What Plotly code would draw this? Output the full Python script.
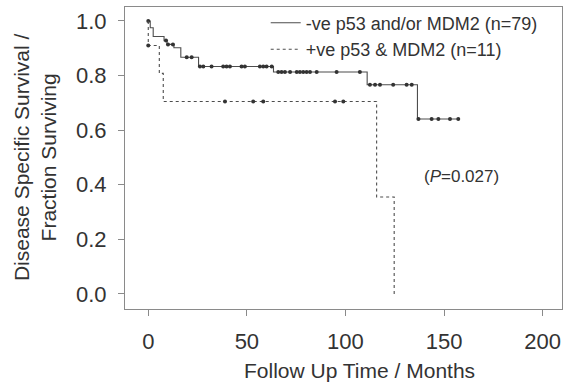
import numpy as np
import plotly.graph_objects as go

# Kaplan-Meier step data (months, fraction surviving)
neg_label = "-ve p53 and/or MDM2 (n=79)"
neg_times = [0, 1.0, 2.5, 8.0, 9.5, 13.0, 16.5, 25.5, 63.5, 111.0, 136.5]
neg_surv = [1.0, 0.975, 0.943, 0.928, 0.914, 0.902, 0.867, 0.833, 0.813, 0.766, 0.641]
neg_end = 158.0
neg_censored = [0, 9, 10, 12.5, 19.5, 22, 26.2, 27.9, 32.1, 38.0, 39.7, 41.4, 47.3,
                49.0, 56.6, 58.3, 60.0, 62.6, 65.9, 67.6, 69.3, 71.9, 75.3, 76.9,
                78.6, 80.3, 82.0, 85.4, 95.5, 107.3, 112.4, 115.0, 117.5, 124.2,
                131.0, 133.6, 137.0, 143.7, 147.1, 153.0, 157.2]

pos_label = "+ve p53 & MDM2 (n=11)"
pos_times = [0, 0, 5.6, 7.6, 115.8, 124.7]
pos_surv = [1.0, 0.91, 0.808, 0.705, 0.355, 0.0]
pos_end = 124.7
pos_censored = [0, 38.9, 53.2, 58.3, 94.7, 98.9]

p_value_text = "(<i>P</i>=0.027)"
x_ticks = [0, 50, 100, 150, 200]
y_ticks = [0.0, 0.2, 0.4, 0.6, 0.8, 1.0]

FONT = "Liberation Sans, Arial, sans-serif"
TXT = "#333333"
LINE = "#4d4d4d"


def step_value(times, surv, t):
    idx = np.searchsorted(np.asarray(times), t, side="right") - 1
    return np.asarray(surv)[idx]


fig = go.Figure()


def add_curve(times, surv, end, censored, name, dash):
    xs = list(times) + [end]
    ys = list(surv) + [surv[-1]]
    fig.add_trace(go.Scatter(
        x=xs, y=ys, mode="lines", name=name, line_shape="hv",
        line=dict(color=LINE, width=1.1, dash=dash),
    ))
    cx = np.asarray(censored, dtype=float)
    cy = [step_value(times, surv, t) for t in cx]
    fig.add_trace(go.Scatter(
        x=cx, y=cy, mode="markers", showlegend=False, hoverinfo="skip",
        marker=dict(color="#333333", size=4),
    ))


add_curve(neg_times, neg_surv, neg_end, neg_censored, neg_label, "solid")
add_curve(pos_times, pos_surv, pos_end, pos_censored, pos_label, "dot")

fig.add_annotation(x=159, y=0.432, xref="x", yref="y", text=p_value_text,
                   showarrow=False, font=dict(family=FONT, size=17, color=TXT))

# axis titles
fig.add_annotation(x=0.5355, y=-0.202, xref="paper", yref="paper",
                   text="Follow Up Time / Months", showarrow=False,
                   xanchor="center", yanchor="middle",
                   font=dict(family=FONT, size=21, color=TXT))
fig.add_annotation(x=-0.206, y=0.503, xref="paper", yref="paper",
                   text="Disease Specific Survival /<br>Fraction Surviving",
                   showarrow=False, textangle=-90,
                   xanchor="center", yanchor="middle",
                   font=dict(family=FONT, size=21, color=TXT))

axis_common = dict(showgrid=False, zeroline=False, showline=True, mirror=True,
                   linecolor="#8a8a8a", linewidth=1, ticks="outside", ticklen=6,
                   tickcolor="#8a8a8a", tickfont=dict(family=FONT, size=22, color=TXT))

fig.update_layout(
    width=565, height=388,
    margin=dict(l=125, r=3, t=7, b=79),
    paper_bgcolor="white", plot_bgcolor="white",
    xaxis=dict(range=[-11.8, 209.8], tickvals=x_ticks, ticklabelstandoff=7,
               **axis_common),
    yaxis=dict(range=[-0.055, 1.051], tickvals=y_ticks, tickformat=".1f",
               ticklabelstandoff=7, **axis_common),
    legend=dict(x=0.322, y=1.008, xanchor="left", yanchor="top",
                bgcolor="rgba(0,0,0,0)", itemwidth=30, tracegroupgap=0,
                font=dict(family=FONT, size=18, color=TXT)),
    showlegend=True,
)

fig.write_html("out.html")
